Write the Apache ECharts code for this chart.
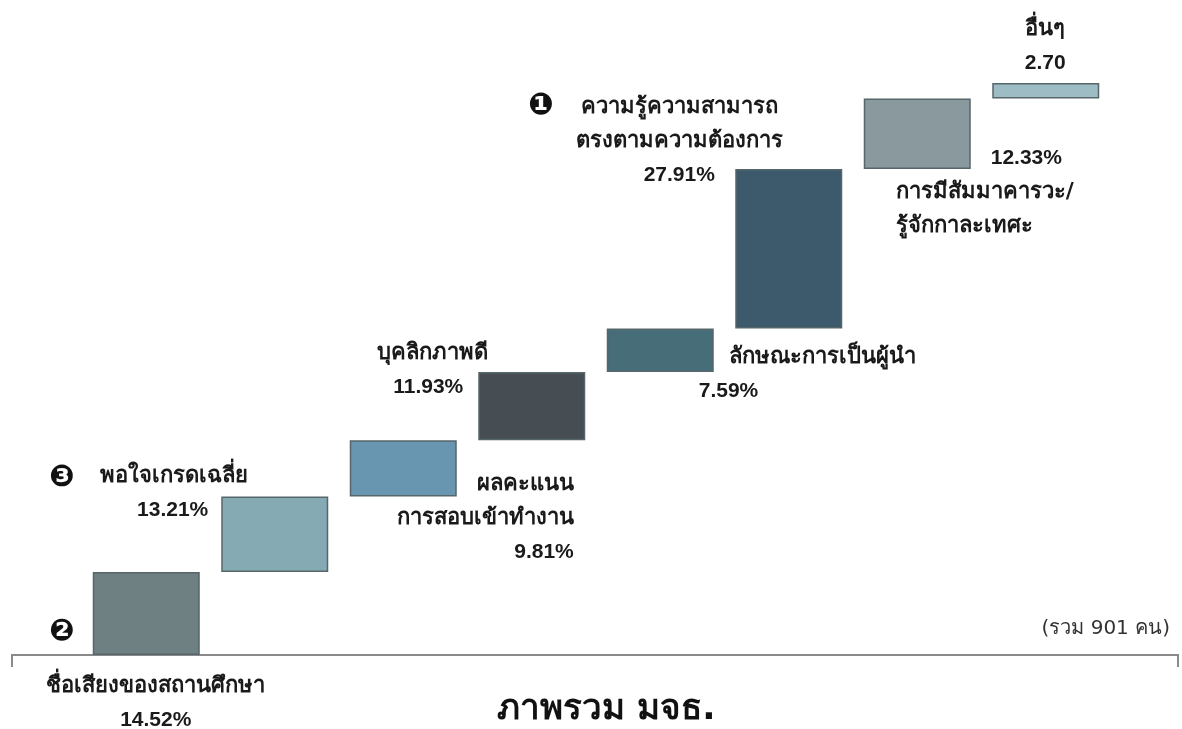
<!DOCTYPE html>
<html>
<head>
<meta charset="utf-8">
<script src="https://cdn.jsdelivr.net/npm/echarts@6/dist/echarts.min.js"></script>
<style>
  html, body { margin: 0; padding: 0; background: #fff; }
  #chart { width: 1182px; height: 729px; }
</style>
</head>
<body>
<div id="chart"></div>
<script>
// ภาพรวม มจธ. — waterfall of factors (sums to 100)
var categories = [
  'ชื่อเสียงของสถานศึกษา',
  'พอใจเกรดเฉลี่ย',
  'ผลคะแนนการสอบเข้าทำงาน',
  'บุคลิกภาพดี',
  'ลักษณะการเป็นผู้นำ',
  'ความรู้ความสามารถตรงตามความต้องการ',
  'การมีสัมมาคารวะ/รู้จักกาละเทศะ',
  'อื่นๆ'
]
var values = [14.52, 13.21, 9.81, 11.93, 7.59, 27.91, 12.33, 2.70]
var valueText = ['14.52%', '13.21%', '9.81%', '11.93%', '7.59%', '27.91%', '12.33%', '2.70']
var barColors = ['#6e8081', '#85aab4', '#6896b0', '#464e53', '#466d78', '#3c5a6c', '#8a999e', '#9dbcc4']

// invisible base for each step
var base = []
var run = 0
values.forEach(function (v) {
  base.push(run)
  run += v
})

var thai = { fontSize: 22, fontWeight: 'bold', color: '#1a1a1a', lineHeight: 34, fontFamily: 'DejaVu Sans, sans-serif' }
var num = { fontSize: 21, fontWeight: 'bold', color: '#1a1a1a', lineHeight: 34, fontFamily: 'Liberation Sans, Arial, sans-serif' }

// label layout per bar: [dx, dy] from bar top-left, align, text lines
var labelCfg = [
  { pos: [63, 97], align: 'center', text: '{t|' + categories[0] + '}\n{n|' + valueText[0] + '}' },
  { pos: [27, -37], align: 'right', text: '{t|' + categories[1] + '}\n{nR40|' + valueText[1] + '}' },
  { pos: [224, 27], align: 'right', text: '{t|ผลคะแนน}\n{t|การสอบเข้าทำงาน}\n{n|' + valueText[2] + '}' },
  { pos: [10, -36], align: 'right', text: '{t|' + categories[3] + '}\n{nR25|' + valueText[3] + '}' },
  { pos: [92, 12], align: 'left', text: '{tL30|' + categories[4] + '}\n{n|' + valueText[4] + '}' },
  { pos: [-56, -79], align: 'center', text: '{t|ความรู้ความสามารถ}\n{t|ตรงตามความต้องการ}\n{n|' + valueText[5] + '}' },
  { pos: [32, 43], align: 'left', text: '{nL95|' + valueText[6] + '}\n{t|การมีสัมมาคารวะ/}\n{t|รู้จักกาละเทศะ}' },
  { pos: [53, -71], align: 'center', text: '{t|' + categories[7] + '}\n{n|' + valueText[7] + '}' }
]

var richStyles = {
  t: thai,
  n: num,
  nR40: Object.assign({}, num, { padding: [0, 40, 0, 0] }),
  nR25: Object.assign({}, num, { padding: [0, 25, 0, 0] }),
  tL30: Object.assign({}, thai, { padding: [0, 0, 0, 30] }),
  nL95: Object.assign({}, num, { padding: [0, 0, 0, 95] })
}

var shown = values.map(function (v, i) {
  return {
    value: v,
    itemStyle: { color: barColors[i] },
    label: {
      show: true,
      position: labelCfg[i].pos,
      align: labelCfg[i].align,
      verticalAlign: 'top',
      formatter: labelCfg[i].text,
      rich: richStyles
    }
  }
})

var badge = { fontSize: 30, fontWeight: 'bold', fill: '#111', fontFamily: 'DejaVu Sans, sans-serif' }

var myChart = echarts.init(document.getElementById('chart'))
var option = {
  animation: false,
  textStyle: { fontFamily: 'DejaVu Sans, sans-serif' },
  grid: { left: 82, right: 72, top: 83, bottom: 74 },
  xAxis: {
    type: 'category',
    data: categories,
    axisLine: { show: false },
    axisTick: { show: false },
    axisLabel: { show: false }
  },
  yAxis: {
    type: 'value',
    min: 0,
    max: 100,
    show: false,
    splitLine: { show: false }
  },
  series: [
    {
      name: 'base',
      type: 'bar',
      stack: 'w',
      barWidth: 107,
      itemStyle: { color: 'transparent' },
      silent: true,
      data: base
    },
    {
      name: 'value',
      type: 'bar',
      stack: 'w',
      barWidth: 107,
      itemStyle: { borderColor: '#56666b', borderWidth: 1.5 },
      data: shown
    }
  ],
  graphic: [
    {
      type: 'polyline',
      shape: { points: [[12, 667], [12, 655], [1178, 655], [1178, 667]] },
      style: { stroke: '#8a8a8a', lineWidth: 2, fill: null },
      z: 1
    },
    { type: 'text', left: 49, top: 617, style: Object.assign({ text: '❷' }, badge) },
    { type: 'text', left: 49, top: 463, style: Object.assign({ text: '❸' }, badge) },
    { type: 'text', left: 528, top: 91, style: Object.assign({ text: '❶' }, badge) },
    {
      type: 'text', right: 12, top: 619,
      style: { text: '(รวม 901 คน)', fontSize: 20, fill: '#333', fontFamily: 'DejaVu Sans, sans-serif' }
    },
    {
      type: 'text', left: 497, top: 692,
      style: { text: 'ภาพรวม มจธ.', fontSize: 35, fontWeight: 'bold', fill: '#111', fontFamily: 'DejaVu Sans, sans-serif' }
    }
  ]
}
option && myChart.setOption(option)
</script>
</body>
</html>
